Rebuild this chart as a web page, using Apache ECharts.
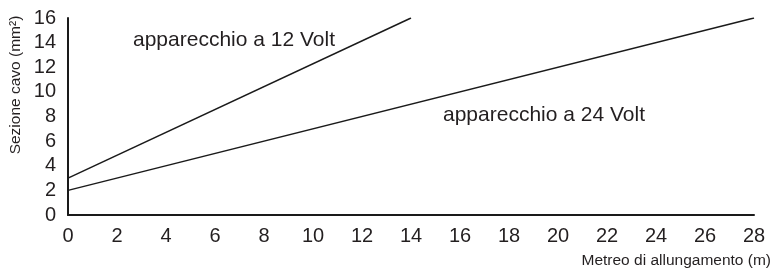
<!DOCTYPE html>
<html>
<head>
<meta charset="utf-8">
<script src="https://cdn.jsdelivr.net/npm/echarts@6/dist/echarts.min.js"></script>
<style>
  html, body { margin: 0; padding: 0; background: #fff; }
  #chart { width: 773px; height: 271px; }
</style>
</head>
<body>
<div id="chart"></div>
<script>
// values
var metri12 = [0, 14];
var sezione12 = [3, 16];
var metri24 = [0, 28];
var sezione24 = [2, 16];
var xTicks = [0, 2, 4, 6, 8, 10, 12, 14, 16, 18, 20, 22, 24, 26, 28];
var yTicks = [0, 2, 4, 6, 8, 10, 12, 14, 16];

function pairs(xs, ys) {
    return xs.map(function(x, i) { return [x, ys[i]]; });
}

var font = 'Liberation Sans, Arial, sans-serif';
var ink = '#231f20';
var myChart = echarts.init(document.getElementById('chart'));

var option = {
    animation: false,
    grid: { left: 68, right: 19, top: 18, bottom: 56 },
    xAxis: {
        type: 'value',
        min: xTicks[0],
        max: xTicks[xTicks.length - 1],
        interval: 2,
        axisLine: { lineStyle: { color: '#1a1a1a', width: 2 } },
        axisTick: { show: false },
        splitLine: { show: false },
        axisLabel: { color: ink, fontSize: 20, fontFamily: font, margin: 11 }
    },
    yAxis: {
        type: 'value',
        min: yTicks[0],
        max: yTicks[yTicks.length - 1],
        interval: 2,
        axisLine: { show: true, lineStyle: { color: '#1a1a1a', width: 2 } },
        axisTick: { show: false },
        splitLine: { show: false },
        axisLabel: { color: ink, fontSize: 20, fontFamily: font, margin: 12 }
    },
    graphic: [
        {
            type: 'text', x: 133, y: 30,
            style: { text: 'apparecchio a 12 Volt', fill: ink, font: '21px ' + font }
        },
        {
            type: 'text', x: 443, y: 105,
            style: { text: 'apparecchio a 24 Volt', fill: ink, font: '21px ' + font }
        },
        {
            type: 'text', x: 771, y: 261,
            style: { text: 'Metreo di allungamento (m)', fill: ink, font: '15.5px ' + font,
                     align: 'right', verticalAlign: 'middle' }
        },
        {
            type: 'text', x: 16, y: 85, rotation: Math.PI / 2,
            style: { text: 'Sezione cavo (mm²)', fill: ink, font: '15.5px ' + font,
                     align: 'center', verticalAlign: 'middle' }
        }
    ],
    series: [
        {
            name: 'apparecchio a 12 Volt',
            type: 'line',
            data: pairs(metri12, sezione12),
            showSymbol: false,
            lineStyle: { color: '#1a1a1a', width: 1.5 }
        },
        {
            name: 'apparecchio a 24 Volt',
            type: 'line',
            data: pairs(metri24, sezione24),
            showSymbol: false,
            lineStyle: { color: '#1a1a1a', width: 1.5 }
        }
    ]
};

myChart.setOption(option);
</script>
</body>
</html>
